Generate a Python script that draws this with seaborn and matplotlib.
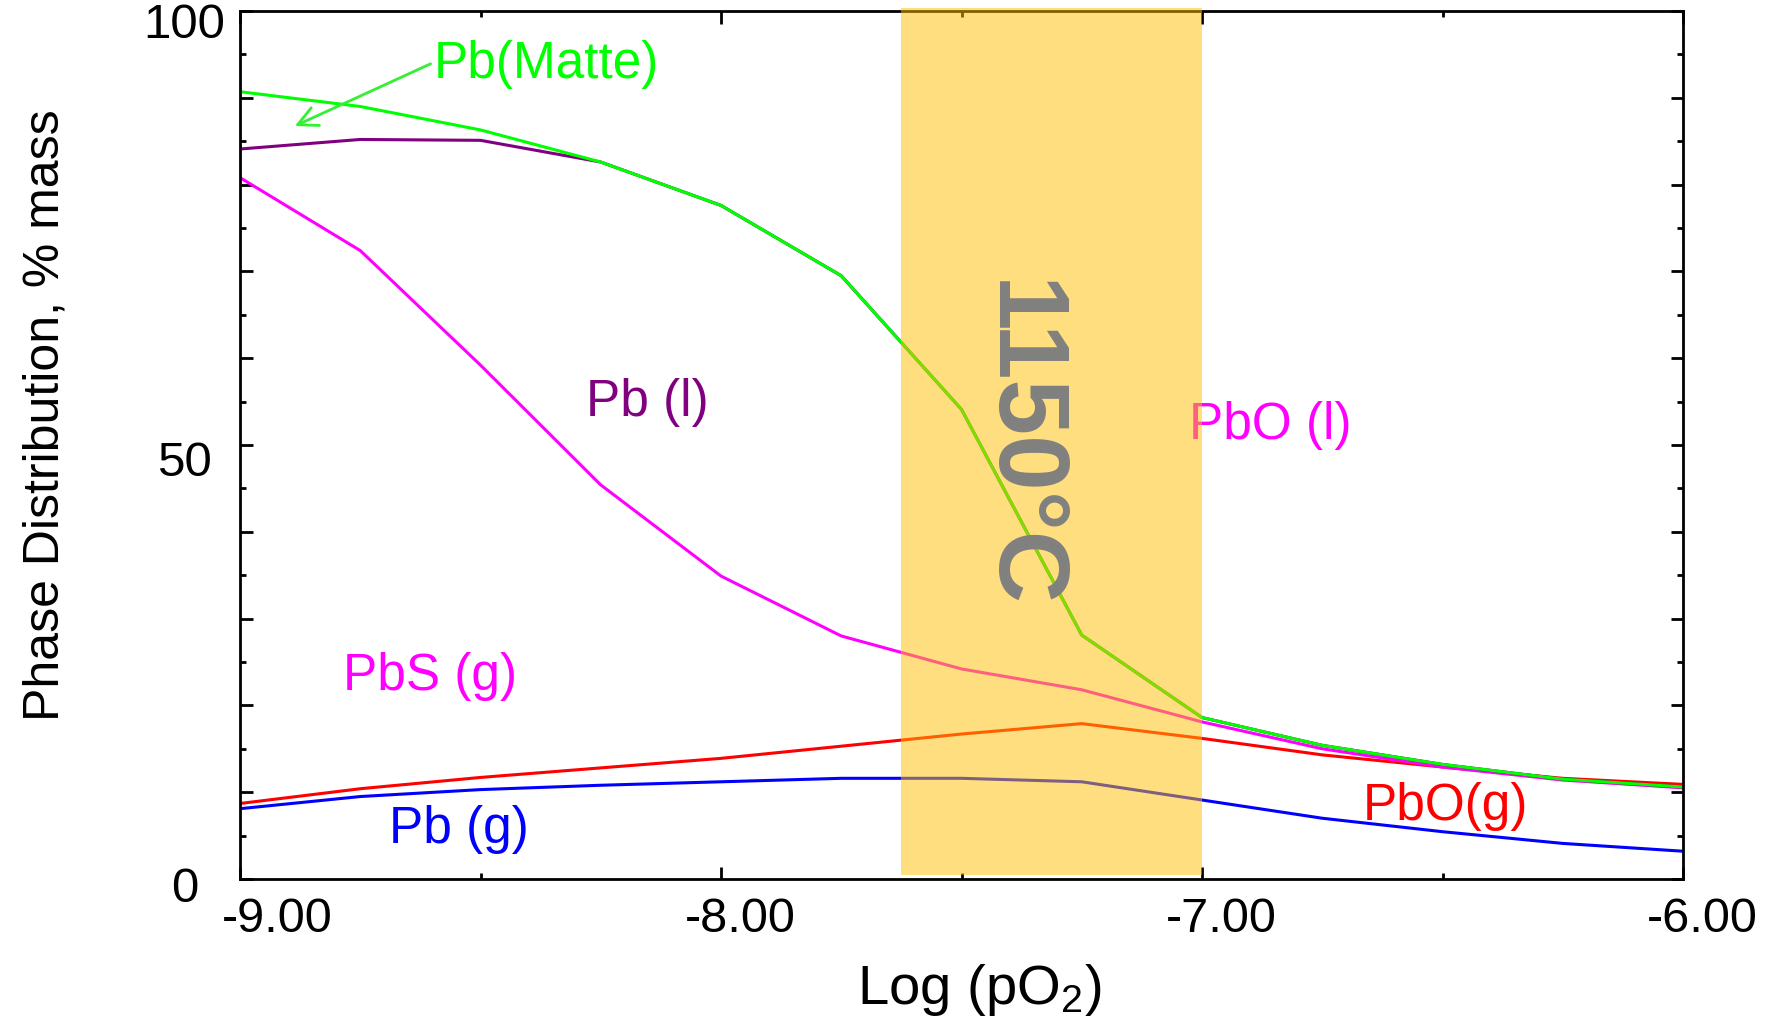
import numpy as np
import pandas as pd
import matplotlib
matplotlib.use("Agg")
import matplotlib.pyplot as plt
import matplotlib.transforms as mtransforms
from matplotlib.ticker import FixedLocator
import seaborn as sns

# ---------------- data ----------------
log_po2 = [-9.00, -8.75, -8.50, -8.25, -8.00, -7.75, -7.50, -7.25, -7.00, -6.75, -6.50, -6.25, -6.00]
pb_matte = [90.7, 89.0, 86.3, 82.6, 77.6, 69.5, 54.1, 28.1, 18.6, 15.4, 13.2, 11.5, 10.6]
pb_liquid = [84.1, 85.2, 85.1, 82.6, 77.6, 69.5, 54.1, 28.1, 18.6, 15.4, 13.2, 11.5, 10.6]
pbs_gas = [80.8, 72.4, 59.2, 45.4, 34.9, 28.0, 24.2, 21.8, 18.1, 15.0, 12.9, 11.4, 10.5]
pbo_gas = [8.7, 10.4, 11.7, 12.8, 13.9, 15.3, 16.7, 17.9, 16.2, 14.3, 12.9, 11.6, 10.9]
pb_gas = [8.1, 9.5, 10.3, 10.8, 11.2, 11.6, 11.6, 11.2, 9.1, 7.0, 5.45, 4.1, 3.2]

series_names = ["Pb (g)", "PbO(g)", "PbS (g)", "Pb (l)", "Pb(Matte)"]
series_values = [pb_gas, pbo_gas, pbs_gas, pb_liquid, pb_matte]
series_colors = ["#0000FF", "#FF0000", "#FF00FF", "#800080", "#00FF00"]

band_range = [-7.625, -7.0]
band_label = "1150°C"

x_ticks = [-9.0, -8.0, -7.0, -6.0]
x_tick_labels = ["-9.00", "-8.00", "-7.00", "-6.00"]
x_minor = [-8.5, -7.5, -6.5]
y_ticks = [0, 10, 20, 30, 40, 50, 60, 70, 80, 90, 100]
y_tick_labels = ["0", "", "", "", "", "50", "", "", "", "", "100"]
y_minor = [5, 15, 25, 35, 45, 55, 65, 75, 85, 95]

label_texts = ["Pb(Matte)", "Pb (l)", "PbO (l)", "PbS (g)", "Pb (g)", "PbO(g)"]
label_x = [-8.597, -8.280, -7.027, -8.785, -8.690, -6.665]
label_y = [92.25, 53.3, 50.7, 21.8, 4.2, 6.8]
label_colors = ["#00FF00", "#800080", "#FF00FF", "#FF00FF", "#0000FF", "#FF0000"]
matte_arrow_tip = (-8.886, 86.75)

# ---------------- style ----------------
sns.set_style("ticks")
plt.rcParams["font.family"] = ["Liberation Sans", "DejaVu Sans"]
plt.rcParams["axes.unicode_minus"] = False
plt.rcParams["mathtext.fontset"] = "custom"
plt.rcParams["mathtext.rm"] = "Liberation Sans"
plt.rcParams["mathtext.it"] = "Liberation Sans:italic"
plt.rcParams["mathtext.bf"] = "Liberation Sans:bold"
plt.rcParams["text.color"] = "black"
plt.rcParams["axes.labelcolor"] = "black"
plt.rcParams["xtick.color"] = "black"
plt.rcParams["ytick.color"] = "black"
plt.rcParams["xtick.labelcolor"] = "black"
plt.rcParams["ytick.labelcolor"] = "black"

W, H = 1773, 1029
fig = plt.figure(figsize=(W / 100, H / 100), dpi=100)
ax = fig.add_axes([240 / W, (H - 879) / H, 1443 / W, 868 / H])

rows = []
for name, vals in zip(series_names, series_values):
    for x, v in zip(log_po2, vals):
        rows.append({"log_po2": x, "value": v, "phase": name})
df = pd.DataFrame(rows)

sns.lineplot(data=df, x="log_po2", y="value", hue="phase", hue_order=series_names,
             palette=dict(zip(series_names, series_colors)), estimator=None,
             linewidth=2.2, legend=False, ax=ax)

ax.set_xlim(-9, -6)
ax.set_ylim(0, 100)

# yellow band on top of lines (semi-transparent)
ax.axvspan(band_range[0], band_range[1], ymin=0.0046, ymax=1.0035,
           facecolor=(1.0, 0.745, 0.0), alpha=0.5, lw=0, zorder=3, clip_on=False)
ax.text(-7.38, 50.1, band_label, rotation=-90, ha="center", va="center",
        fontsize=72, fontweight="bold", color="#808080", zorder=4)

# annotations
for t, x, y, c in zip(label_texts, label_x, label_y, label_colors):
    if t == "Pb(Matte)":
        ax.annotate(t, xy=matte_arrow_tip, xytext=(x, y), color=c, fontsize=37,
                    ha="left", va="baseline", zorder=2.5,
                    arrowprops=dict(arrowstyle="->", color="#33F033", lw=2.0,
                                    shrinkA=0, shrinkB=0, relpos=(0.0, 0.55),
                                    mutation_scale=35))
    else:
        ax.text(x, y, t, color=c, fontsize=37, ha="left", va="baseline", zorder=2.5)

# spines
for s in ax.spines.values():
    s.set_linewidth(2.0)
    s.set_color("black")

# ticks
ax.xaxis.set_major_locator(FixedLocator(x_ticks))
ax.xaxis.set_minor_locator(FixedLocator(x_minor))
ax.yaxis.set_major_locator(FixedLocator(y_ticks))
ax.yaxis.set_minor_locator(FixedLocator(y_minor))
ax.set_xticklabels(x_tick_labels)
ax.set_yticklabels(y_tick_labels)
ax.tick_params(which="both", direction="in", top=True, right=True, width=2.0,
               color="black", labelcolor="black")
ax.tick_params(which="major", length=9)
ax.tick_params(which="minor", length=4)
ax.tick_params(axis="x", labelsize=35, pad=13)
ax.tick_params(axis="y", labelsize=35.5, pad=40)

y_offsets_px = {"0": -10, "50": -18, "100": -14.5}
for lbl in ax.get_yticklabels():
    lbl.set_ha("center")
    lbl.set_va("center")
    dy = y_offsets_px.get(lbl.get_text(), 0)
    lbl.set_transform(lbl.get_transform() + mtransforms.ScaledTranslation(0, dy / 100, fig.dpi_scale_trans))

x_offsets_px = {"-9.00": 37, "-8.00": 19, "-7.00": 19, "-6.00": 19}
for lbl in ax.get_xticklabels():
    dx = x_offsets_px.get(lbl.get_text(), 0)
    lbl.set_transform(lbl.get_transform() + mtransforms.ScaledTranslation(dx / 100, 0, fig.dpi_scale_trans))

ax.set_xlabel("Log (pO$_\\mathregular{2}$)", fontsize=40.5, color="black")
ax.xaxis.set_label_coords(0.512, -0.0956)
ax.set_ylabel("Phase Distribution, % mass", fontsize=36, color="black")
ax.yaxis.set_label_coords(-0.119, 0.5346)

fig.savefig("out.png", dpi=100, facecolor="white")
